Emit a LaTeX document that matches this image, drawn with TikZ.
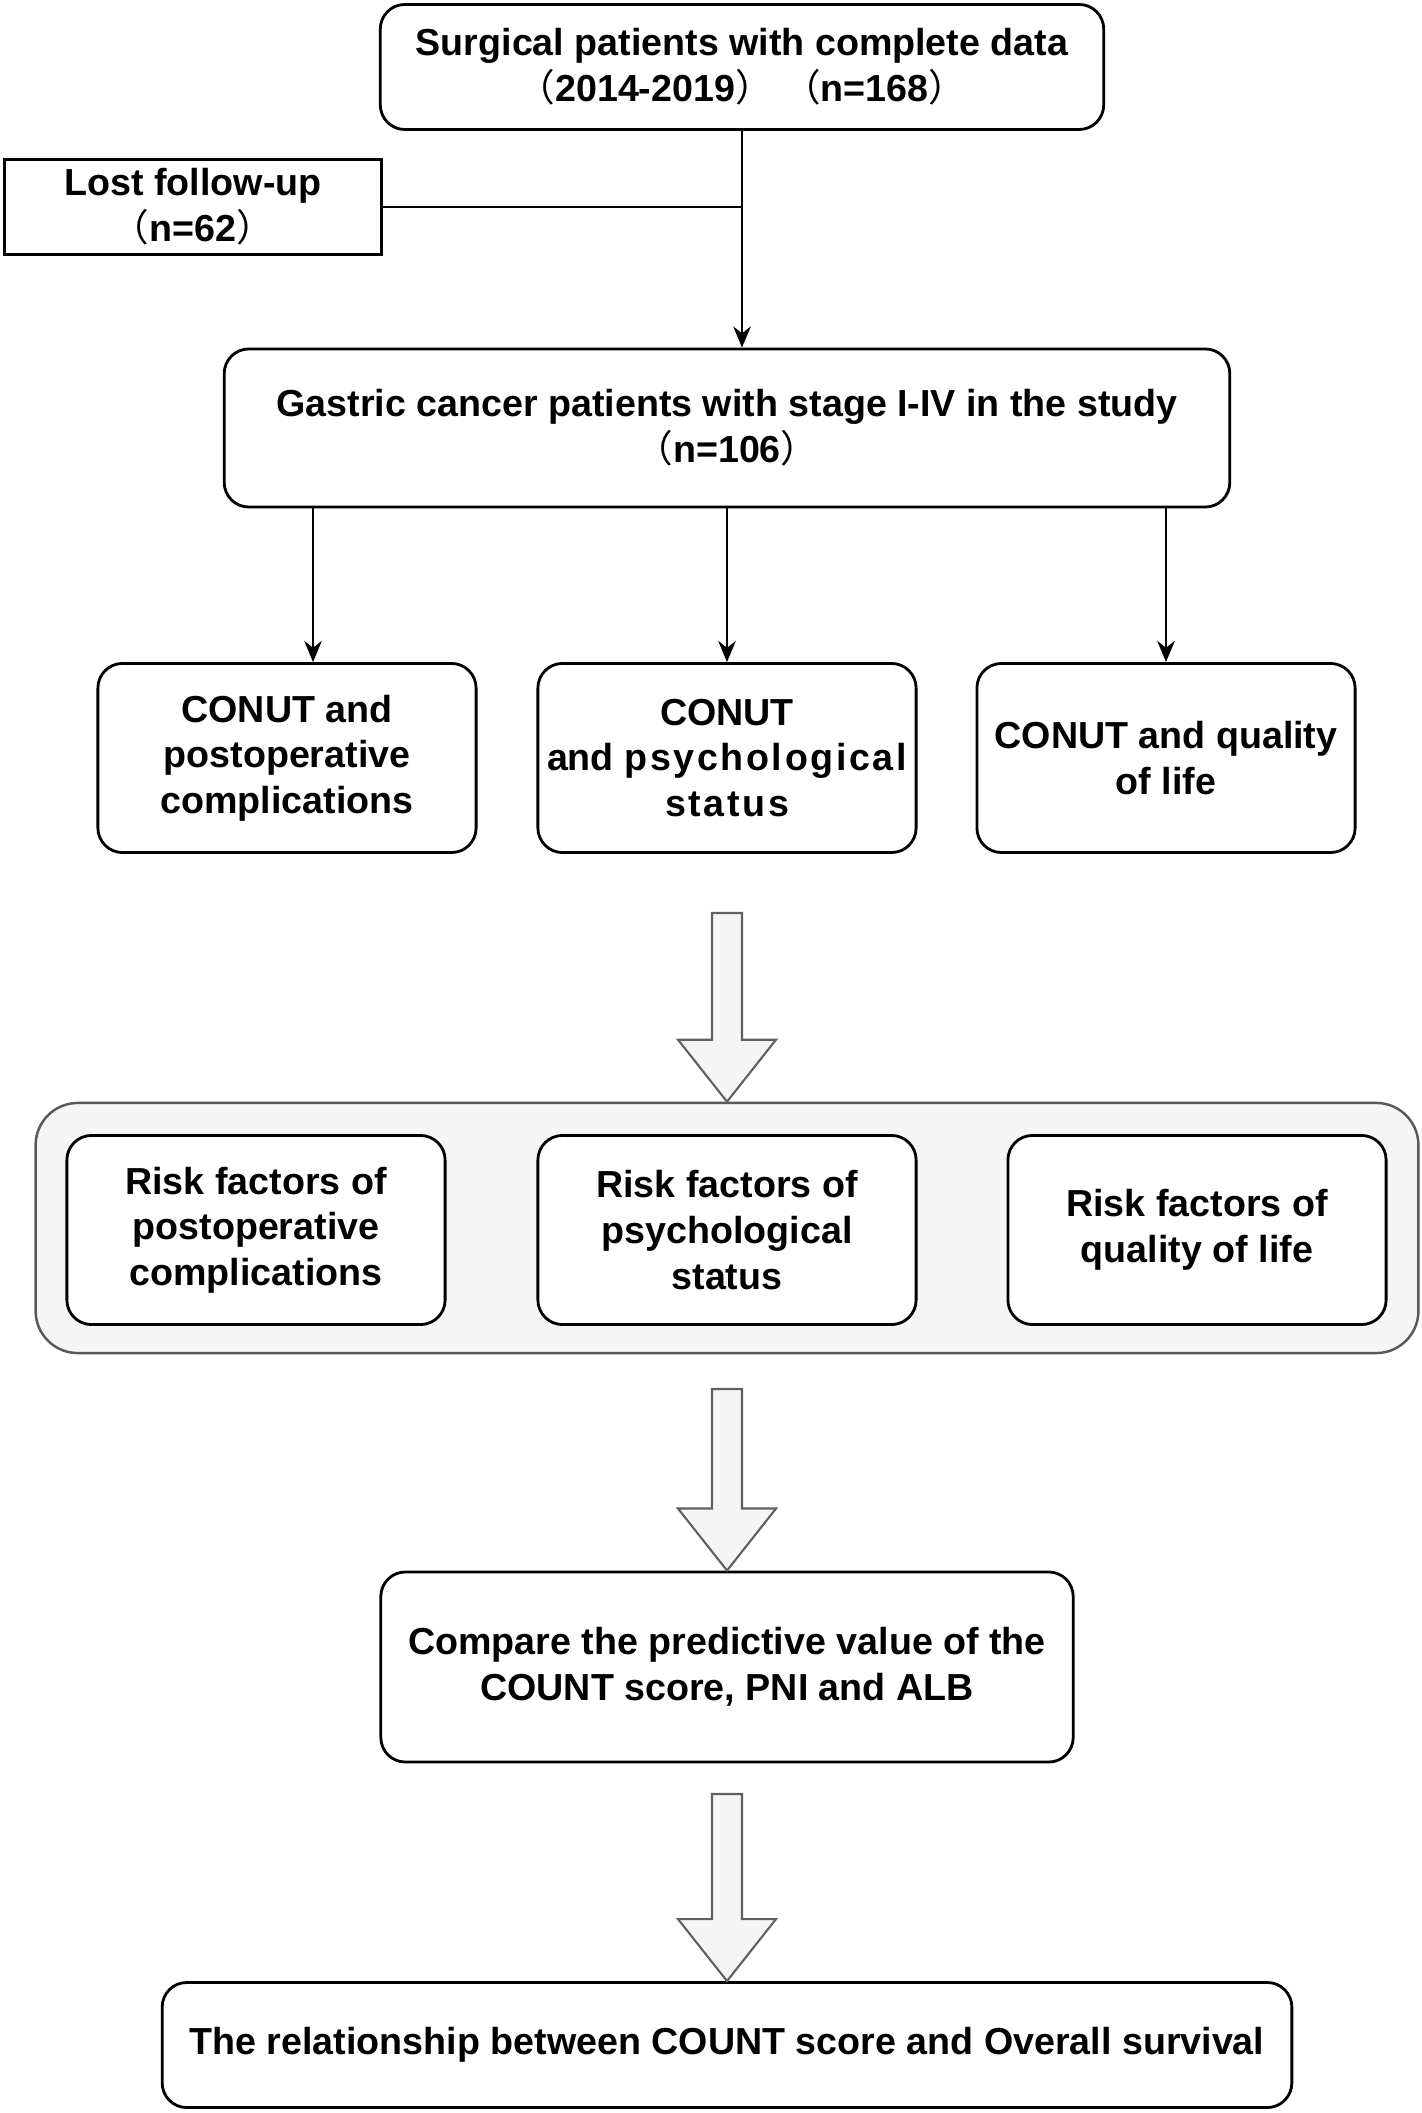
\documentclass[tikz,border=0pt]{standalone}
\usepackage{fontspec}
\setmainfont{Liberation Sans}
\newfontfamily\cjk{Noto Sans CJK SC}
\usetikzlibrary{arrows.meta,calc}

\newcommand\lpar{{\cjk\mdseries （}}
\newcommand\rpar{{\cjk\mdseries ）}}
\newcommand\spaced[1]{{\addfontfeature{LetterSpace=7}#1}}
% block arrow: #1 top coordinate, #2 tip coordinate
\newcommand\hollowarrow[2]{%
  \draw[hollow] ($(#1)+(-15,0)$) -- ($(#2)+(-15,-62)$) -- ($(#2)+(-49,-62)$) -- (#2)
    -- ($(#2)+(49,-62)$) -- ($(#2)+(15,-62)$) -- ($(#1)+(15,0)$) -- cycle;}

\tikzset{
  box/.style={draw, rounded corners=7pt, line width=0.8pt, align=center,
    font=\bfseries\fontsize{10.7}{13}\selectfont, inner sep=2pt},
  plainbox/.style={box, rounded corners=0pt},
  group/.style={draw=gray!70!black, fill=gray!8, rounded corners=12pt, line width=0.7pt},
  hollow/.style={draw=gray!75!black, fill=gray!8, line width=0.6pt},
  link/.style={line width=0.7pt, -{Stealth[length=6pt,width=5pt]}}
}

\begin{document}
\begin{tikzpicture}[x=0.01cm,y=-0.01cm]
  \useasboundingbox (0,0) rectangle (1422,2113);

  \node[box, minimum width=7.23cm, minimum height=1.25cm] (top) at (742,67)
    {Surgical patients with complete data\\\lpar 2014-2019\rpar\ \lpar n=168\rpar};
  \node[plainbox, minimum width=3.77cm, minimum height=0.95cm] (lost) at (193,207)
    {Lost follow-up\\\lpar n=62\rpar};
  \node[box, minimum width=10.05cm, minimum height=1.58cm] (gc) at (727,428)
    {Gastric cancer patients with stage I-IV in the study\\\lpar n=106\rpar};

  \node[box, minimum width=3.78cm, minimum height=1.89cm] (conA) at (287,758)
    {CONUT and\\postoperative\\complications};
  \node[box, minimum width=3.78cm, minimum height=1.89cm] (conB) at (727,758)
    {CONUT\\and \spaced{psychological}\\\spaced{status}};
  \node[box, minimum width=3.78cm, minimum height=1.89cm] (conC) at (1166,758)
    {CONUT and quality\\of life};

  \node[group, minimum width=13.82cm, minimum height=2.5cm] (risk) at (727,1228) {};
  \node[box, fill=white, minimum width=3.78cm, minimum height=1.89cm] (riskA) at (256,1230)
    {Risk factors of\\postoperative\\complications};
  \node[box, fill=white, minimum width=3.78cm, minimum height=1.89cm] (riskB) at (727,1230)
    {Risk factors of\\psychological\\status};
  \node[box, fill=white, minimum width=3.78cm, minimum height=1.89cm] (riskC) at (1197,1230)
    {Risk factors of\\quality of life};

  \node[box, minimum width=6.92cm, minimum height=1.9cm] (cmp) at (727,1667)
    {Compare the predictive value of the\\COUNT score, PNI and ALB};
  \node[box, minimum width=11.29cm, minimum height=1.25cm] (os) at (727,2045)
    {The relationship between COUNT score and Overall survival};

  \draw[link] (top.south) -- (top.south |- gc.north);
  \draw[line width=0.7pt] (lost.east) -- (lost.east -| top.south);

  \draw[link] ([xshift=0.26cm]conA.north |- gc.south) -- ([xshift=0.26cm]conA.north);
  \draw[link] (conB.north |- gc.south) -- (conB.north);
  \draw[link] (conC.north |- gc.south) -- (conC.north);

  \coordinate (h1) at (727,913);
  \coordinate (h2) at (727,1389);
  \coordinate (h3) at (727,1794);
  \hollowarrow{h1}{risk.north}
  \hollowarrow{h2}{cmp.north}
  \hollowarrow{h3}{os.north}
\end{tikzpicture}
\end{document}
